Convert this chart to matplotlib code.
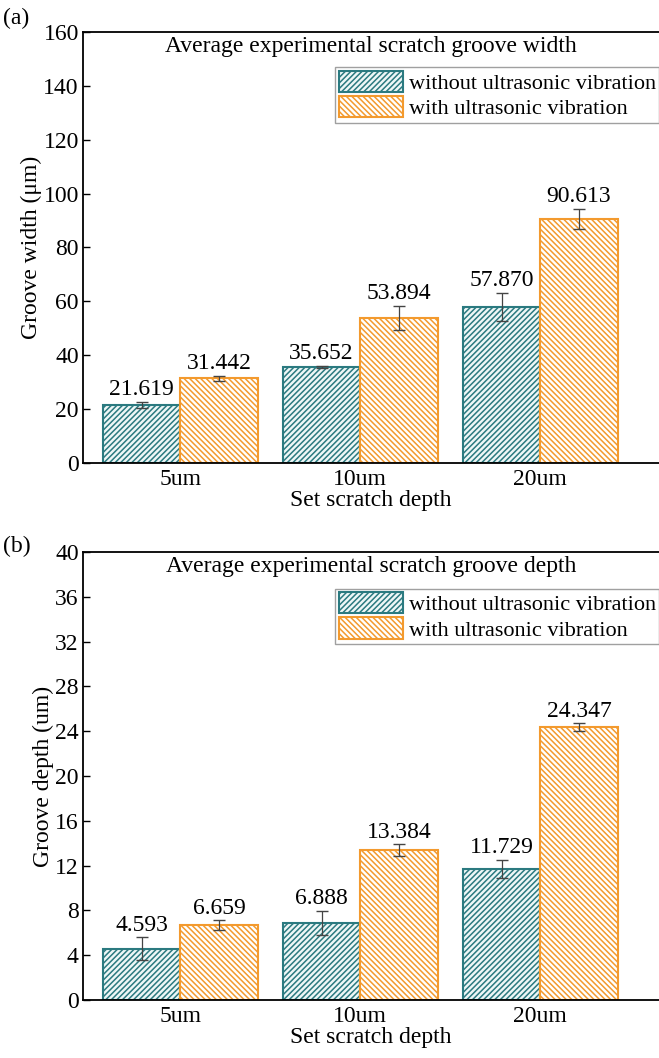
import numpy as np
import matplotlib
matplotlib.use("Agg")
import matplotlib.pyplot as plt

plt.rcParams['font.family'] = ['Liberation Serif', 'DejaVu Serif']
plt.rcParams['hatch.linewidth'] = 1.1

categories = ["5um", "10um", "20um"]
series_names = ["without ultrasonic vibration", "with ultrasonic vibration"]

width_without = [21.619, 35.652, 57.870]
width_with = [31.442, 53.894, 90.613]
width_err_without = [1.2, 0.5, 5.2]
width_err_with = [1.0, 4.5, 3.7]

depth_without = [4.593, 6.888, 11.729]
depth_with = [6.659, 13.384, 24.347]
depth_err_without = [1.0, 1.1, 0.8]
depth_err_with = [0.45, 0.5, 0.35]

teal = "#2b7a80"
orange = "#f39a2e"

fig = plt.figure(figsize=(6.59, 10.58), dpi=100)
ax_a = fig.add_axes([0.126, 0.5624, 0.874, 0.4074])
ax_b = fig.add_axes([0.126, 0.0548, 0.874, 0.4235])

x = np.arange(len(categories))
bw = 0.43
fs = 17


def draw(ax, v1, v2, e1, e2, ymax, step, title, ylabel):
    ax.bar(x - bw / 2, v1, bw, facecolor="#eef7f7", edgecolor=teal, hatch="//////",
           linewidth=1.5, label=series_names[0])
    ax.bar(x + bw / 2, v2, bw, facecolor="white", edgecolor=orange, hatch="\\\\\\\\\\\\",
           linewidth=1.5, label=series_names[1])
    ax.errorbar(x - bw / 2, v1, yerr=e1, fmt="none", ecolor="#444444", elinewidth=0.9, capsize=4)
    ax.errorbar(x + bw / 2, v2, yerr=e2, fmt="none", ecolor="#444444", elinewidth=0.9, capsize=4)
    for xi, v, e in zip(x - bw / 2, v1, e1):
        ax.text(xi, v + e + ymax * 0.004, f"{v:.3f}", ha="center", va="bottom", fontsize=fs)
    for xi, v, e in zip(x + bw / 2, v2, e2):
        ax.text(xi, v + e + ymax * 0.004, f"{v:.3f}", ha="center", va="bottom", fontsize=fs)
    ax.set_xlim(-0.54, 2.66)
    ax.set_ylim(0, ymax)
    ax.set_yticks(np.arange(0, ymax + 0.1, step))
    ax.set_xticks(x)
    ax.set_xticklabels(categories)
    ax.tick_params(axis="y", direction="in", length=5, width=1, labelsize=fs, pad=3)
    ax.tick_params(axis="x", length=0, labelsize=fs, pad=4)
    ax.spines["right"].set_visible(False)
    for s in ["left", "bottom", "top"]:
        ax.spines[s].set_linewidth(1.3)
    ax.set_xlabel("Set scratch depth", fontsize=fs, labelpad=0)
    ax.set_ylabel(ylabel, fontsize=fs, labelpad=1)
    ax.text(0.5, 0.99, title, transform=ax.transAxes, ha="center", va="top", fontsize=fs)
    leg = ax.legend(loc="upper right", bbox_to_anchor=(1.0, 0.918), fontsize=16,
                    frameon=True, fancybox=False, edgecolor="#888888",
                    handlelength=2.9, handleheight=1.1, handletextpad=0.25,
                    borderpad=0.15, labelspacing=0.1, borderaxespad=0.0)
    leg.get_frame().set_linewidth(1.0)


draw(ax_a, width_without, width_with, width_err_without, width_err_with, 160, 20,
     "Average experimental scratch groove width", "Groove width (\u03bcm)")
draw(ax_b, depth_without, depth_with, depth_err_without, depth_err_with, 40, 4,
     "Average experimental scratch groove depth", "Groove depth (um)")

fig.text(0.005, 1 - 18 / 1058, "(a)", fontsize=fs, ha="left", va="center")
fig.text(0.005, 1 - 546 / 1058, "(b)", fontsize=fs, ha="left", va="center")

fig.savefig("out.png", dpi=100)
